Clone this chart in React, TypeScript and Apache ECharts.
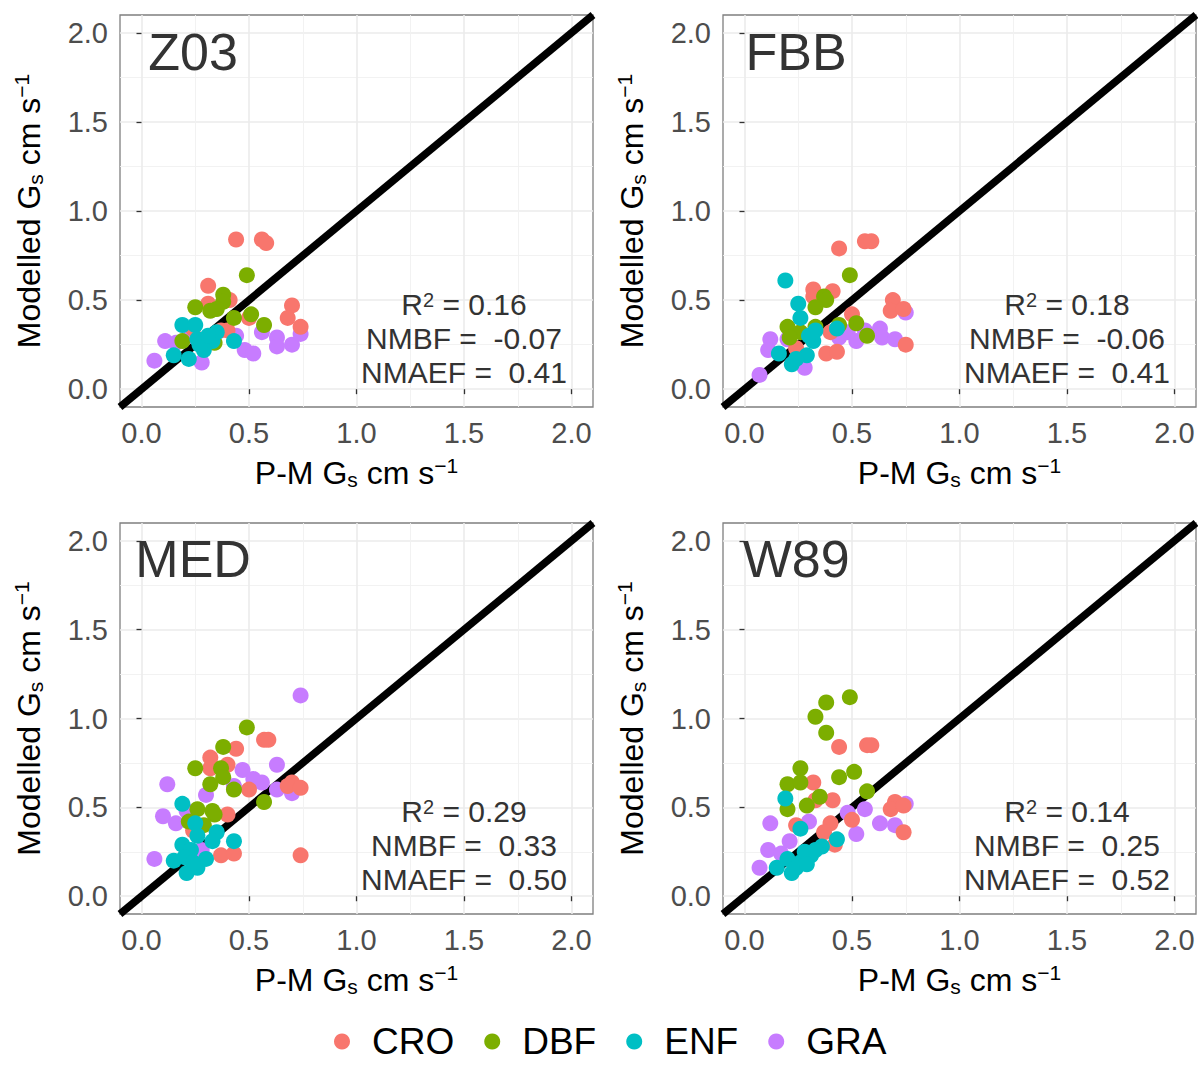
import React, { useEffect, useRef } from "react";
import * as echarts from "echarts";

const FONT = '"Liberation Sans", Arial, Helvetica, sans-serif';

// ---- data (P-M Gs, Modelled Gs) ----
const z03CRO = [[0.44,0.84],[0.56,0.84],[0.58,0.82],[0.31,0.58],[0.31,0.48],[0.41,0.50],[0.70,0.47],[0.68,0.40],[0.50,0.40],[0.74,0.35],[0.24,0.34],[0.37,0.33],[0.40,0.33]];
const z03DBF = [[0.49,0.64],[0.38,0.53],[0.38,0.49],[0.25,0.46],[0.32,0.44],[0.35,0.45],[0.43,0.40],[0.51,0.42],[0.57,0.36],[0.19,0.27],[0.34,0.26]];
const z03ENF = [[0.19,0.36],[0.25,0.36],[0.26,0.28],[0.30,0.28],[0.33,0.27],[0.35,0.32],[0.43,0.27],[0.15,0.19],[0.22,0.17],[0.29,0.22],[0.27,0.25],[0.31,0.30]];
const z03GRA = [[0.06,0.16],[0.11,0.27],[0.16,0.26],[0.28,0.15],[0.48,0.22],[0.52,0.20],[0.56,0.32],[0.63,0.29],[0.63,0.24],[0.70,0.25],[0.74,0.31],[0.44,0.30],[0.23,0.30]];

const fbbCRO = [[0.44,0.79],[0.56,0.83],[0.59,0.83],[0.32,0.56],[0.41,0.55],[0.32,0.52],[0.69,0.50],[0.68,0.44],[0.74,0.45],[0.50,0.42],[0.38,0.20],[0.43,0.21],[0.24,0.23],[0.75,0.25],[0.40,0.32]];
const fbbDBF = [[0.49,0.64],[0.37,0.52],[0.38,0.50],[0.33,0.46],[0.20,0.35],[0.26,0.32],[0.33,0.35],[0.44,0.36],[0.52,0.37],[0.57,0.30],[0.21,0.29]];
const fbbENF = [[0.19,0.61],[0.25,0.48],[0.26,0.40],[0.33,0.33],[0.43,0.34],[0.16,0.20],[0.22,0.14],[0.29,0.19],[0.32,0.27],[0.24,0.17],[0.30,0.30]];
const fbbGRA = [[0.07,0.08],[0.12,0.28],[0.11,0.22],[0.20,0.28],[0.28,0.12],[0.44,0.29],[0.48,0.32],[0.52,0.27],[0.56,0.33],[0.63,0.34],[0.64,0.29],[0.70,0.28],[0.75,0.43]];

const medCRO = [[0.57,0.88],[0.59,0.88],[0.44,0.83],[0.32,0.78],[0.32,0.72],[0.40,0.74],[0.50,0.60],[0.70,0.64],[0.68,0.62],[0.74,0.61],[0.40,0.46],[0.24,0.37],[0.37,0.23],[0.43,0.24],[0.74,0.23]];
const medDBF = [[0.49,0.95],[0.38,0.84],[0.25,0.72],[0.37,0.72],[0.38,0.67],[0.32,0.63],[0.43,0.60],[0.57,0.53],[0.26,0.49],[0.33,0.48],[0.34,0.46],[0.29,0.40],[0.22,0.42]];
const medENF = [[0.19,0.52],[0.25,0.41],[0.26,0.34],[0.35,0.36],[0.43,0.31],[0.19,0.29],[0.15,0.20],[0.21,0.13],[0.26,0.16],[0.30,0.21],[0.23,0.26],[0.33,0.31],[0.20,0.22],[0.24,0.19]];
const medGRA = [[0.74,1.13],[0.12,0.63],[0.63,0.74],[0.47,0.71],[0.56,0.64],[0.52,0.66],[0.63,0.60],[0.70,0.58],[0.30,0.57],[0.43,0.62],[0.10,0.45],[0.16,0.41],[0.21,0.48],[0.06,0.21],[0.28,0.26]];

const w89CRO = [[0.44,0.84],[0.57,0.85],[0.59,0.85],[0.32,0.64],[0.33,0.54],[0.41,0.54],[0.50,0.43],[0.70,0.53],[0.68,0.49],[0.74,0.51],[0.74,0.36],[0.40,0.41],[0.37,0.36],[0.42,0.29],[0.24,0.40]];
const w89DBF = [[0.49,1.12],[0.38,1.09],[0.33,1.01],[0.38,0.92],[0.26,0.72],[0.20,0.63],[0.26,0.64],[0.44,0.67],[0.51,0.70],[0.57,0.59],[0.35,0.56],[0.29,0.51],[0.20,0.49]];
const w89ENF = [[0.19,0.55],[0.26,0.38],[0.43,0.32],[0.15,0.16],[0.22,0.13],[0.26,0.19],[0.31,0.23],[0.36,0.28],[0.28,0.25],[0.20,0.21],[0.24,0.16],[0.33,0.26],[0.29,0.18]];
const w89GRA = [[0.07,0.16],[0.11,0.26],[0.17,0.24],[0.12,0.41],[0.21,0.31],[0.30,0.42],[0.48,0.47],[0.56,0.49],[0.63,0.41],[0.52,0.35],[0.70,0.40],[0.75,0.52]];

const panelNames = ["Z03", "FBB", "MED", "W89"];
const r2Values = [0.16, 0.18, 0.29, 0.14];
const nmbfValues = [-0.07, -0.06, 0.33, 0.25];
const nmaefValues = [0.41, 0.41, 0.50, 0.52];

const categories = ["CRO", "DBF", "ENF", "GRA"];
const colors: Record<string, string> = { CRO: "#F8766D", DBF: "#7CAE00", ENF: "#00BFC4", GRA: "#C77CFF" };
const panelData: Record<string, number[][]>[] = [
  { CRO: z03CRO, DBF: z03DBF, ENF: z03ENF, GRA: z03GRA },
  { CRO: fbbCRO, DBF: fbbDBF, ENF: fbbENF, GRA: fbbGRA },
  { CRO: medCRO, DBF: medDBF, ENF: medENF, GRA: medGRA },
  { CRO: w89CRO, DBF: w89DBF, ENF: w89ENF, GRA: w89GRA },
];

const majorTicks = [0, 0.5, 1.0, 1.5, 2.0];
const minorTicks = [0.25, 0.75, 1.25, 1.75];
const AX_MIN = -0.1;
const AX_MAX = 2.1;
const drawOrder = ["GRA", "CRO", "DBF", "ENF"];

// ---- layout ----
const grids = [
  { left: 120, top: 15, width: 473, height: 392 },
  { left: 723, top: 15, width: 473, height: 392 },
  { left: 120, top: 523, width: 473, height: 391 },
  { left: 723, top: 523, width: 473, height: 391 },
];
const labelPos = [0.24, 1.895];
const statX = 1.5;
const statY = [0.474, 0.287, 0.094];

const titleRich = {
  n: { fontSize: 32, lineHeight: 35, color: "#000", fontFamily: FONT },
  sub: { fontSize: 21, lineHeight: 13, verticalAlign: "bottom", color: "#000", fontFamily: FONT },
  sup: { fontSize: 21, lineHeight: 8, verticalAlign: "top", color: "#000", fontFamily: FONT },
};
const axisName = (p: string) => `{n|${p} G}{sub|s}{n| cm s}{sup|\u22121}`;

function px(g: any, v: number) {
  return g.left + ((v - AX_MIN) / (AX_MAX - AX_MIN)) * g.width;
}
function py(g: any, v: number) {
  return g.top + g.height - ((v - AX_MIN) / (AX_MAX - AX_MIN)) * g.height;
}

export default function App() {
  const ref = useRef<HTMLDivElement>(null);
  useEffect(() => {
    const chart = echarts.init(ref.current!, null, { renderer: "svg" });
    const xAxis: any[] = [];
    const yAxis: any[] = [];
    const series: any[] = [];
    const graphic: any[] = [];

    grids.forEach((g, i) => {
      const common = { type: "value", gridIndex: i, min: AX_MIN, max: AX_MAX };
      xAxis.push({
        ...common,
        position: "bottom",
        axisLine: { show: false },
        axisTick: { show: true, customValues: majorTicks, length: 5, lineStyle: { color: "#333", width: 1.3 } },
        axisLabel: { customValues: majorTicks, formatter: (v: number) => v.toFixed(1), color: "#4d4d4d", fontSize: 29, margin: 11, fontFamily: FONT },
        splitLine: { show: true, lineStyle: { color: "#ebebeb", width: 1.6 } },
        name: axisName("P-M"),
        nameLocation: "middle",
        nameGap: 48,
        nameTextStyle: { rich: titleRich },
      });
      xAxis.push({
        ...common,
        position: "top",
        axisLine: { show: false },
        axisTick: { show: false, customValues: minorTicks },
        axisLabel: { show: false, customValues: minorTicks },
        splitLine: { show: true, lineStyle: { color: "#f0f0f0", width: 0.9 } },
      });
      yAxis.push({
        ...common,
        position: "left",
        axisLine: { show: false },
        axisTick: { show: true, customValues: majorTicks, length: 5, lineStyle: { color: "#333", width: 1.3 } },
        axisLabel: { customValues: majorTicks, formatter: (v: number) => v.toFixed(1), color: "#4d4d4d", fontSize: 29, margin: 12, fontFamily: FONT },
        splitLine: { show: true, lineStyle: { color: "#ebebeb", width: 1.6 } },
        name: axisName("Modelled"),
        nameLocation: "middle",
        nameGap: 74,
        nameTextStyle: { rich: titleRich },
      });
      yAxis.push({
        ...common,
        position: "right",
        axisLine: { show: false },
        axisTick: { show: false, customValues: minorTicks },
        axisLabel: { show: false, customValues: minorTicks },
        splitLine: { show: true, lineStyle: { color: "#f0f0f0", width: 0.9 } },
      });

      series.push({
        type: "line",
        name: "1:1",
        xAxisIndex: 2 * i,
        yAxisIndex: 2 * i,
        data: [[AX_MIN, AX_MIN], [AX_MAX, AX_MAX]],
        showSymbol: false,
        symbol: "none",
        lineStyle: { color: "#000", width: 7.5 },
        z: 2,
        silent: true,
        clip: true,
      });
      drawOrder.forEach((c) => {
        series.push({
          type: "scatter",
          name: c,
          xAxisIndex: 2 * i,
          yAxisIndex: 2 * i,
          data: panelData[i][c],
          symbol: "circle",
          symbolSize: 16,
          itemStyle: { color: colors[c], opacity: 1 },
          z: 3,
          silent: true,
        });
      });

      graphic.push({
        type: "text",
        x: px(g, labelPos[0]),
        y: py(g, labelPos[1]),
        style: { text: panelNames[i], fontSize: 52, fontFamily: FONT, fill: "#333", align: "center", verticalAlign: "middle", textAlign: "center", textVerticalAlign: "middle" },
        z: 10,
      });
      const statTexts = [
        `{t|R}{s|2}{t| = ${r2Values[i].toFixed(2)}}`,
        `{t|NMBF =  ${nmbfValues[i].toFixed(2)}}`,
        `{t|NMAEF =  ${nmaefValues[i].toFixed(2)}}`,
      ];
      statTexts.forEach((t, k) => {
        graphic.push({
          type: "text",
          x: px(g, statX),
          y: py(g, statY[k]),
          style: {
            text: t,
            align: "center",
            verticalAlign: "middle",
            textAlign: "center",
            textVerticalAlign: "middle",
            fill: "#333",
            fontFamily: FONT,
            fontSize: 30,
            rich: {
              t: { fontSize: 30, lineHeight: 29, fill: "#333", color: "#333", fontFamily: FONT },
              s: { fontSize: 20, lineHeight: 6, verticalAlign: "top", fill: "#333", color: "#333", fontFamily: FONT },
            },
          },
          z: 10,
        });
      });
    });

    chart.setOption({
      animation: false,
      backgroundColor: "#fff",
      textStyle: { fontFamily: FONT },
      grid: grids.map((g) => ({
        ...g,
        show: true,
        borderColor: "#7f7f7f",
        borderWidth: 1.3,
        backgroundColor: "#fff",
        containLabel: false,
        outerBoundsMode: "none",
      })),
      legend: {
        data: categories,
        left: 329,
        top: 1018,
        orient: "horizontal",
        icon: "circle",
        itemWidth: 50,
        itemHeight: 16,
        itemGap: 30,
        textStyle: { fontSize: 37, color: "#000", fontFamily: FONT },
        selectedMode: false,
      },
      xAxis,
      yAxis,
      series,
      graphic,
    });
    return () => chart.dispose();
  }, []);
  return <div ref={ref} style={{ position: "absolute", left: 0, top: 0, width: 1198, height: 1065 }} />;
}
